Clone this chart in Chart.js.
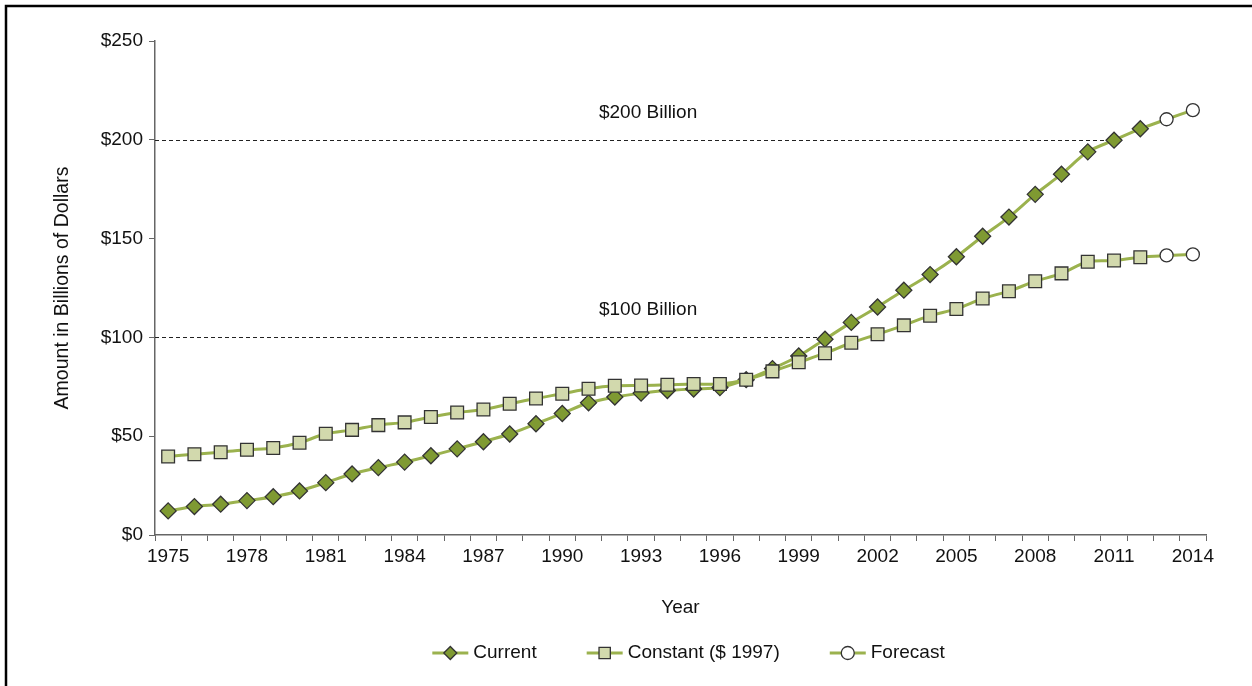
<!DOCTYPE html>
<html>
<head>
<meta charset="utf-8">
<script src="https://cdn.jsdelivr.net/npm/chart.js@4/dist/chart.umd.min.js"></script>
<style>
  html, body { margin: 0; padding: 0; background: #fff; }
  #wrap { width: 1252px; height: 686px; position: relative; }
</style>
</head>
<body>
<div id="wrap"><canvas id="chart" width="1252" height="686"></canvas></div>
<script>
// Data
const years = [];
for (let y = 1975; y <= 2014; y++) years.push(String(y));

const currentValues = [12.2, 14.4, 15.6, 17.4, 19.4, 22.3, 26.5, 30.9, 34.1, 36.9,
    40.1, 43.6, 47.2, 51.1, 56.3, 61.5, 66.9, 69.8, 71.8, 73.1,
    73.9, 74.6, 78.6, 84.2, 90.6, 99.1, 107.6, 115.4, 123.9, 131.8,
    140.8, 151.2, 160.9, 172.4, 182.6, 193.9, 199.8, 205.6];
const constantValues = [39.7, 40.9, 41.9, 43.1, 44.0, 46.7, 51.2, 53.2, 55.6, 57.0,
    59.7, 62.0, 63.5, 66.4, 69.1, 71.5, 74.0, 75.5, 75.7, 76.0,
    76.4, 76.4, 78.6, 82.8, 87.4, 92.0, 97.3, 101.6, 106.1, 111.0,
    114.4, 119.7, 123.4, 128.4, 132.4, 138.3, 138.9, 140.6];
const forecastCurrent = [210.4, 215.0];
const forecastConstant = [141.5, 142.0];

const yTicks = [0, 50, 100, 150, 200, 250];
const refValues = [200, 100];
const refLabels = ['$200 Billion', '$100 Billion'];
const refEndYears = ['2011', '2000'];
const refLabelYear = '1993';

const seriesNames = ['Current', 'Constant ($ 1997)', 'Forecast'];

const FONT = "'Liberation Sans', Arial, sans-serif";
const FS = 19;
const textColor = '#111';
const lineGreen = '#9bb24e';
const markerEdge = '#333';

// forecast series continue from the last actual value
const lastIdx = currentValues.length - 1;
function forecastSeries(actual, fc) {
    return years.map((y, i) => {
        if (i < lastIdx) return null;
        if (i === lastIdx) return actual[lastIdx];
        return fc[i - lastIdx - 1];
    });
}
const fcRadius = years.map((y, i) => i > lastIdx ? 6.5 : 0);

const styles = [
    { pointStyle: 'rectRot', radius: 8, fill: '#7f9a32' },
    { pointStyle: 'rect', radius: 9, fill: '#d2d9ad' },
    { pointStyle: 'circle', radius: 6.5, fill: '#ffffff' }
];

// Border round the picture (top and left only)
const framePlugin = {
    id: 'frame',
    beforeDraw(chart) {
        const ctx = chart.ctx;
        ctx.save();
        ctx.fillStyle = '#fff';
        ctx.fillRect(0, 0, chart.width, chart.height);
        ctx.strokeStyle = '#000';
        ctx.lineWidth = 2.5;
        ctx.beginPath();
        ctx.moveTo(6, chart.height);
        ctx.lineTo(6, 6);
        ctx.lineTo(chart.width, 6);
        ctx.stroke();
        ctx.restore();
    }
};

// Dashed reference lines with labels
const refPlugin = {
    id: 'refLines',
    beforeDatasetsDraw(chart) {
        const ctx = chart.ctx;
        const xs = chart.scales.x, ys = chart.scales.y;
        ctx.save();
        refValues.forEach((v, i) => {
            const y = Math.round(ys.getPixelForValue(v)) + 0.5;
            const xEnd = xs.getPixelForValue(years.indexOf(refEndYears[i]));
            ctx.strokeStyle = '#222';
            ctx.lineWidth = 1;
            ctx.setLineDash([4, 3]);
            ctx.beginPath();
            ctx.moveTo(chart.chartArea.left, y);
            ctx.lineTo(xEnd, y);
            ctx.stroke();
            ctx.setLineDash([]);
            ctx.fillStyle = textColor;
            ctx.font = FS + 'px ' + FONT;
            ctx.textAlign = 'center';
            ctx.textBaseline = 'middle';
            const lx = xs.getPixelForValue(years.indexOf(refLabelYear)) + 7;
            ctx.fillText(refLabels[i], lx, y - 28);
        });
        ctx.restore();
    }
};

// Legend: line with marker, then text
const legendPlugin = {
    id: 'lineLegend',
    afterDraw(chart) {
        const ctx = chart.ctx;
        const lineW = 36, gapText = 5, gapItem = 50;
        const cy = 653;
        ctx.save();
        ctx.font = FS + 'px ' + FONT;
        const widths = seriesNames.map(n => ctx.measureText(n).width);
        const total = widths.reduce((a, w) => a + lineW + gapText + w, 0) + gapItem * (seriesNames.length - 1);
        const area = chart.chartArea;
        let x = (area.left + area.right) / 2 + 8 - total / 2;
        seriesNames.forEach((name, i) => {
            ctx.strokeStyle = lineGreen;
            ctx.lineWidth = 3;
            ctx.beginPath();
            ctx.moveTo(x, cy);
            ctx.lineTo(x + lineW, cy);
            ctx.stroke();
            const s = styles[i];
            ctx.fillStyle = s.fill;
            ctx.strokeStyle = markerEdge;
            ctx.lineWidth = 1.3;
            Chart.helpers.drawPoint(ctx, {
                pointStyle: s.pointStyle,
                radius: s.pointStyle === 'rect' ? 8 : 6.5,
                rotation: 0,
                borderWidth: 1.3
            }, x + lineW / 2, cy);
            ctx.fillStyle = textColor;
            ctx.textAlign = 'left';
            ctx.textBaseline = 'middle';
            ctx.fillText(name, x + lineW + gapText, cy);
            x += lineW + gapText + widths[i] + gapItem;
        });
        ctx.restore();
    }
};

const ctx = document.getElementById('chart').getContext('2d');

new Chart(ctx, {
    type: 'line',
    data: {
        labels: years,
        datasets: [
            {
                label: seriesNames[0],
                data: currentValues,
                borderColor: lineGreen,
                borderWidth: 3,
                tension: 0.3,
                pointStyle: styles[0].pointStyle,
                pointRadius: styles[0].radius,
                pointBackgroundColor: styles[0].fill,
                pointBorderColor: markerEdge,
                pointBorderWidth: 1.3,
                order: 2
            },
            {
                label: seriesNames[1],
                data: constantValues,
                borderColor: lineGreen,
                borderWidth: 3,
                tension: 0.3,
                pointStyle: styles[1].pointStyle,
                pointRadius: styles[1].radius,
                pointBackgroundColor: styles[1].fill,
                pointBorderColor: markerEdge,
                pointBorderWidth: 1.3,
                order: 1
            },
            {
                label: seriesNames[2],
                data: forecastSeries(currentValues, forecastCurrent),
                borderColor: lineGreen,
                borderWidth: 3,
                tension: 0.3,
                pointStyle: 'circle',
                pointRadius: fcRadius,
                pointBackgroundColor: '#fff',
                pointBorderColor: markerEdge,
                pointBorderWidth: 1.3,
                order: 3
            },
            {
                label: seriesNames[2],
                data: forecastSeries(constantValues, forecastConstant),
                borderColor: lineGreen,
                borderWidth: 3,
                tension: 0.3,
                pointStyle: 'circle',
                pointRadius: fcRadius,
                pointBackgroundColor: '#fff',
                pointBorderColor: markerEdge,
                pointBorderWidth: 1.3,
                order: 3
            }
        ]
    },
    options: {
        responsive: false,
        animation: false,
        layout: { padding: { left: 51, right: 46, top: 41, bottom: 61 } },
        plugins: {
            legend: { display: false },
            tooltip: { enabled: false }
        },
        scales: {
            x: {
                offset: true,
                grid: { offset: true, drawOnChartArea: false, drawTicks: true, tickLength: 6, color: '#666' },
                border: { color: '#666', width: 1.5 },
                ticks: {
                    autoSkip: false,
                    maxRotation: 0,
                    color: textColor,
                    font: { family: FONT, size: FS },
                    padding: 4,
                    callback: (v, i) => i % 3 === 0 ? years[i] : ''
                },
                title: {
                    display: true,
                    text: 'Year',
                    color: textColor,
                    font: { family: FONT, size: FS },
                    padding: { top: 0, bottom: 6 }
                },
                afterFit: (scale) => { scale.height = 90; }
            },
            y: {
                min: 0,
                max: 250,
                afterBuildTicks: (scale) => { scale.ticks = yTicks.map(v => ({ value: v })); },
                grid: { drawOnChartArea: false, drawTicks: true, tickLength: 6, color: '#666' },
                border: { color: '#666', width: 1.5 },
                ticks: {
                    color: textColor,
                    font: { family: FONT, size: FS },
                    padding: 6,
                    callback: (v) => '$' + v
                },
                title: {
                    display: true,
                    text: 'Amount in Billions of Dollars',
                    color: textColor,
                    font: { family: FONT, size: 19.5 },
                    padding: { top: 0, bottom: 0 }
                },
                afterFit: (scale) => { scale.width = 104; }
            }
        }
    },
    plugins: [framePlugin, refPlugin, legendPlugin]
});
</script>
</body>
</html>
